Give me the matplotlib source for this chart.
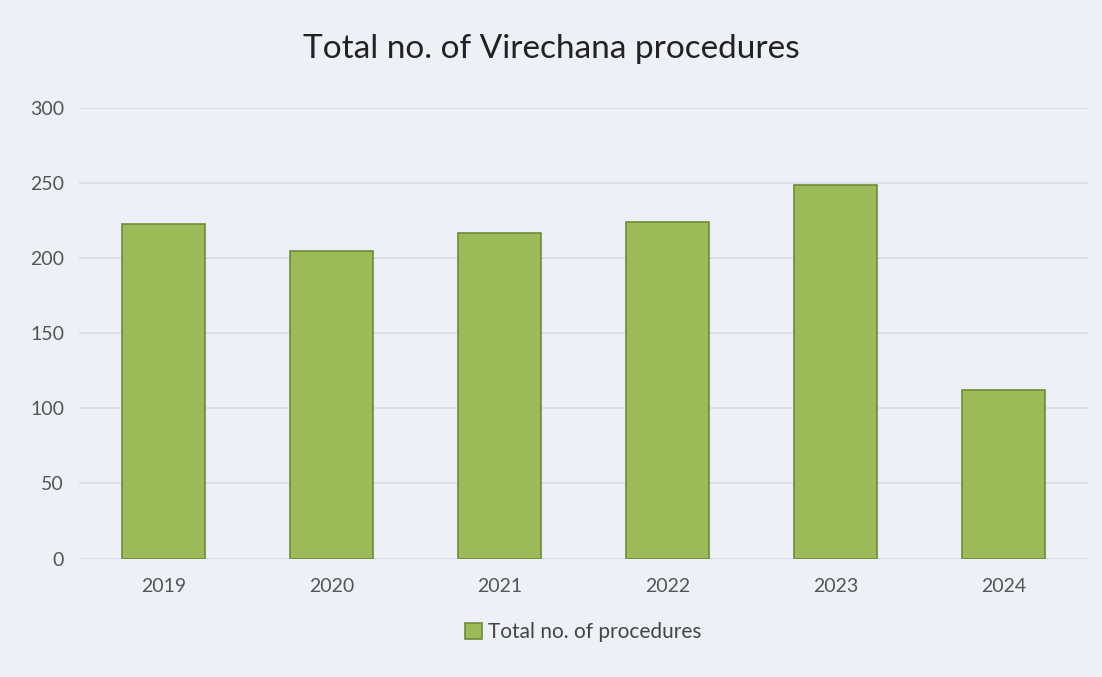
import numpy as np
import matplotlib.pyplot as plt

years = ["2019", "2020", "2021", "2022", "2023", "2024"]
procedures = [223, 205, 217, 224, 249, 112]

plt.rcParams['font.family'] = ['Lato', 'DejaVu Sans']

bg = "#eef0f7"
fig = plt.figure(figsize=(11.02, 6.77), dpi=100, facecolor=bg)
ax = fig.add_axes([0.072, 0.175, 0.915, 0.665], facecolor=bg)

x = np.arange(len(years))
ax.bar(x, procedures, width=0.49, color="#9bbb59", edgecolor="#6f8a3a",
       linewidth=1.2, label="Total no. of procedures", zorder=3)

ax.set_ylim(0, 300)
ax.set_yticks(np.arange(0, 301, 50))
ax.set_xticks(x)
ax.set_xticklabels(years)
ax.set_xlim(-0.5, len(years) - 0.5)
ax.grid(axis="y", color="#d9dbe2", linewidth=1.2, zorder=0)
for s in ax.spines.values():
    s.set_visible(False)
ax.tick_params(axis="both", length=0, labelsize=14, labelcolor="#555555")
ax.tick_params(axis="x", pad=14)
ax.tick_params(axis="y", pad=11)

fig.suptitle("Total no. of Virechana procedures", fontsize=24, color="#222222", y=0.95)

ax.legend(loc="upper center", bbox_to_anchor=(0.5, -0.1), frameon=False,
          fontsize=15, handlelength=0.8, handleheight=0.8, handletextpad=0.3,
          labelcolor="#444444")

fig.savefig("out.png", dpi=100, facecolor=bg)
